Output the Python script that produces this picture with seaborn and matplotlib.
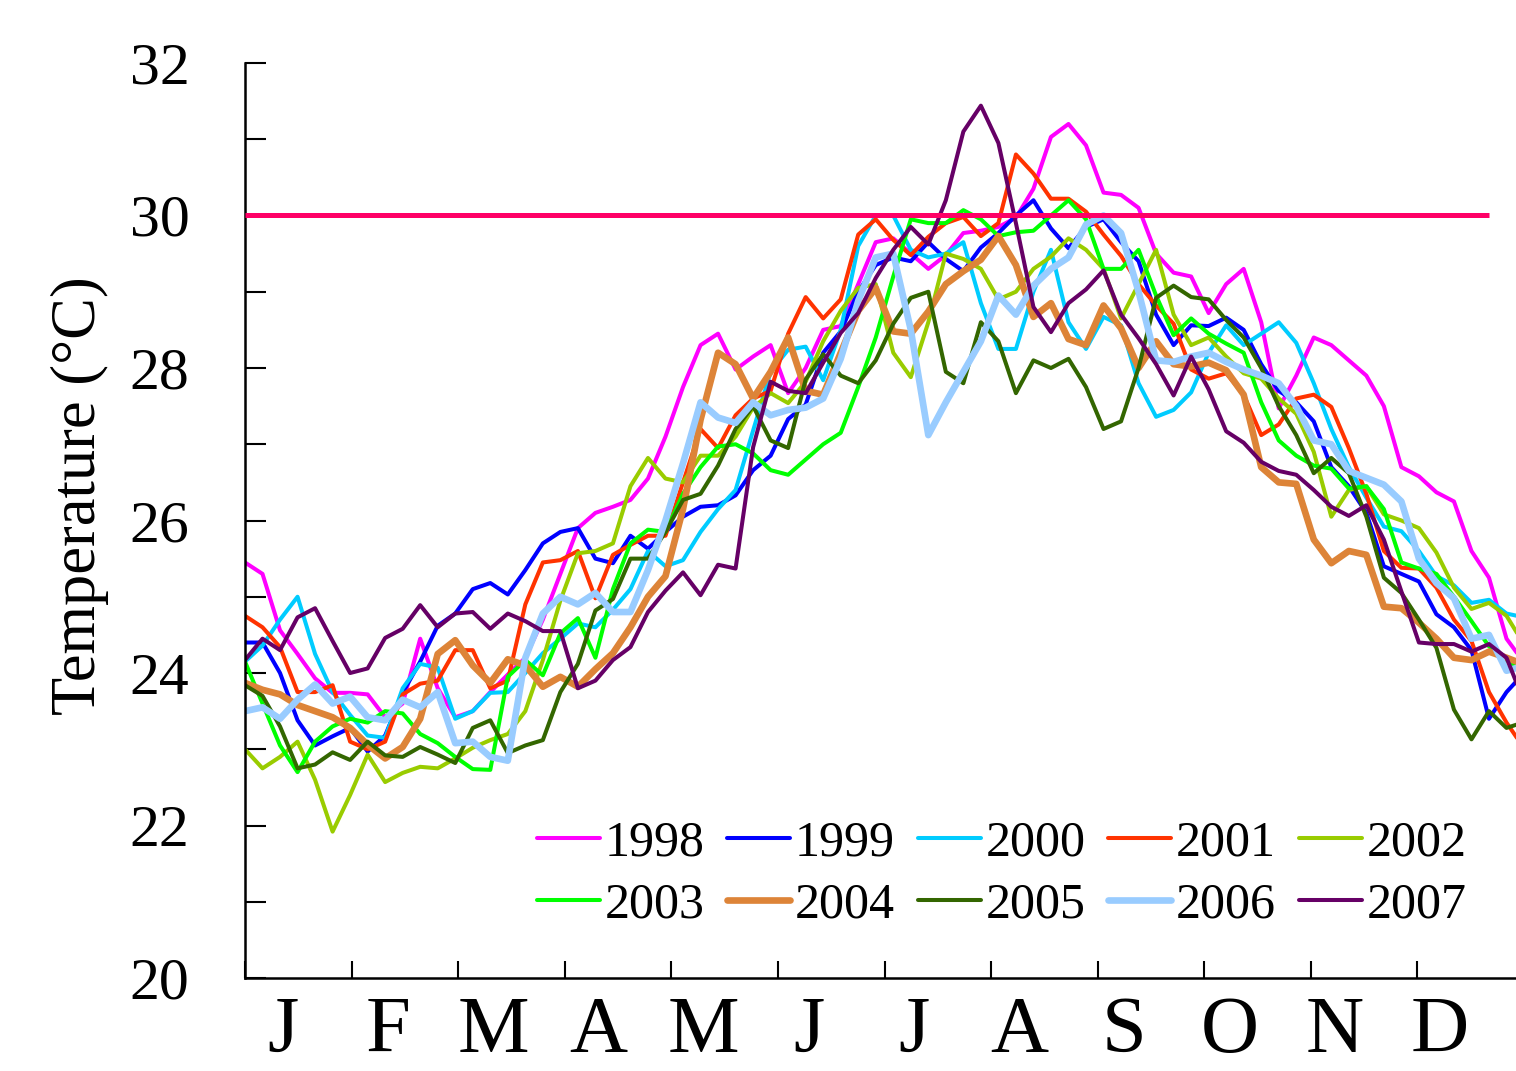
import numpy as np
import pandas as pd
import seaborn as sns
import matplotlib.pyplot as plt

sns.set_style("white")
plt.rcParams["font.family"] = ["Liberation Serif", "DejaVu Serif"]
plt.rcParams["text.color"] = "black"
plt.rcParams["axes.labelcolor"] = "black"
plt.rcParams["xtick.color"] = "black"
plt.rcParams["ytick.color"] = "black"

# day of year for every sample (every 5 days, plus the last day shown)
days = list(range(0, 361, 5)) + [364]

t1998 = [25.45, 25.3, 24.56, 24.25, 23.93, 23.74, 23.74, 23.72, 23.42, 23.6, 24.45, 23.8, 23.42, 23.5, 23.75,
         23.98, 24.2, 24.7, 25.3, 25.9, 26.1, 26.18, 26.27, 26.55, 27.1, 27.75, 28.3, 28.45, 27.98, 28.15,
         28.3, 27.67, 28.0, 28.5, 28.55, 29.1, 29.65, 29.7, 29.5, 29.3, 29.48, 29.77, 29.8, 29.85, 29.97,
         30.35, 31.03, 31.2, 30.92, 30.3, 30.27, 30.1, 29.5, 29.25, 29.2, 28.72, 29.1, 29.3, 28.6, 27.47,
         27.9, 28.4, 28.3, 28.1, 27.9, 27.5, 26.7, 26.58, 26.37, 26.25, 25.6, 25.25, 24.45, 24.2]
t1999 = [24.4, 24.4, 24.0, 23.38, 23.05, 23.17, 23.28, 22.97, 23.18, 23.74, 24.15, 24.62, 24.78, 25.1, 25.18,
         25.03, 25.35, 25.7, 25.85, 25.9, 25.5, 25.44, 25.8, 25.63, 25.85, 26.05, 26.18, 26.2, 26.33, 26.66,
         26.85, 27.33, 27.52, 28.2, 28.48, 29.0, 29.35, 29.45, 29.4, 29.65, 29.43, 29.27, 29.58, 29.77, 30.0,
         30.2, 29.83, 29.57, 29.85, 29.95, 29.65, 29.4, 28.7, 28.3, 28.56, 28.55, 28.66, 28.5, 28.05, 27.7,
         27.55, 27.3, 26.7, 26.45, 26.1, 25.4, 25.3, 25.2, 24.77, 24.6, 24.3, 23.4, 23.75, 23.95]
t2000 = [24.15, 24.36, 24.7, 25.0, 24.25, 23.75, 23.45, 23.18, 23.15, 23.8, 24.12, 24.07, 23.4, 23.5, 23.74,
         23.75, 24.0, 24.26, 24.45, 24.65, 24.6, 24.83, 25.1, 25.6, 25.4, 25.48, 25.85, 26.15, 26.4, 27.18,
         27.95, 28.24, 28.28, 27.84, 28.5, 29.6, 30.0, 30.0, 29.55, 29.45, 29.5, 29.65, 28.85, 28.25, 28.25,
         29.0, 29.55, 28.6, 28.25, 28.67, 28.56, 27.8, 27.36, 27.45, 27.68, 28.2, 28.56, 28.3, 28.45, 28.6,
         28.33, 27.8, 27.2, 26.7, 26.3, 25.92, 25.86, 25.6, 25.27, 25.15, 24.92, 24.96, 24.78, 24.74]
t2001 = [24.75, 24.6, 24.34, 23.75, 23.75, 23.84, 23.1, 23.0, 23.1, 23.72, 23.86, 23.9, 24.3, 24.3, 23.8,
         23.9, 24.9, 25.45, 25.48, 25.6, 24.98, 25.55, 25.68, 25.8, 25.8, 26.5, 27.2, 26.95, 27.38, 27.6,
         27.7, 28.45, 28.93, 28.65, 28.9, 29.75, 29.95, 29.68, 29.48, 29.72, 29.9, 29.98, 29.73, 29.9, 30.8,
         30.55, 30.22, 30.22, 30.05, 29.75, 29.47, 29.1, 28.82, 28.58, 27.98, 27.86, 27.93, 27.65, 27.12, 27.26,
         27.6, 27.65, 27.49, 26.95, 26.35, 25.6, 25.38, 25.37, 25.12, 24.7, 24.42, 23.75, 23.35, 23.08]
t2002 = [23.0, 22.75, 22.9, 23.1, 22.6, 21.92, 22.4, 22.93, 22.57, 22.69, 22.77, 22.75, 22.88, 23.02, 23.12,
         23.2, 23.5, 24.17, 24.95, 25.57, 25.6, 25.7, 26.45, 26.82, 26.55, 26.5, 26.85, 26.85, 27.1, 27.48,
         27.67, 27.54, 27.82, 28.35, 28.75, 29.05, 29.1, 28.2, 27.88, 28.6, 29.5, 29.43, 29.3, 28.9, 29.0,
         29.3, 29.46, 29.7, 29.55, 29.3, 28.65, 29.1, 29.55, 28.7, 28.3, 28.4, 28.15, 27.93, 27.86, 27.6,
         27.4, 26.9, 26.05, 26.4, 26.45, 26.08, 26.0, 25.9, 25.58, 25.12, 24.84, 24.92, 24.75, 24.45]
t2003 = [24.15, 23.6, 23.05, 22.7, 23.1, 23.3, 23.4, 23.35, 23.5, 23.47, 23.2, 23.08, 22.9, 22.74, 22.73,
         23.95, 24.17, 23.97, 24.52, 24.72, 24.2, 25.1, 25.7, 25.88, 25.85, 26.35, 26.7, 26.97, 27.0, 26.88,
         26.66, 26.6, 26.8, 27.0, 27.15, 27.75, 28.4, 29.2, 29.95, 29.9, 29.9, 30.07, 29.95, 29.73, 29.78,
         29.8, 30.0, 30.2, 29.95, 29.3, 29.3, 29.55, 28.95, 28.43, 28.65, 28.45, 28.32, 28.2, 27.55, 27.05,
         26.85, 26.72, 26.68, 26.42, 26.45, 26.15, 25.45, 25.37, 25.3, 25.0, 24.68, 24.35, 24.17, 24.05]
t2004 = [23.87, 23.78, 23.72, 23.58, 23.5, 23.42, 23.28, 23.06, 22.88, 23.03, 23.4, 24.25, 24.43, 24.1, 23.87,
         24.18, 24.1, 23.82, 23.95, 23.82, 24.05, 24.26, 24.6, 25.0, 25.27, 26.15, 27.32, 28.2, 28.05, 27.6,
         27.95, 28.4, 27.7, 27.65, 28.2, 28.75, 29.05, 28.48, 28.45, 28.74, 29.1, 29.27, 29.42, 29.73, 29.35,
         28.67, 28.85, 28.38, 28.3, 28.82, 28.52, 28.0, 28.35, 28.05, 28.02, 28.07, 27.97, 27.65, 26.7, 26.5,
         26.48, 25.75, 25.44, 25.6, 25.55, 24.87, 24.85, 24.66, 24.45, 24.2, 24.17, 24.28, 24.2, 24.13]
t2005 = [23.84, 23.7, 23.3, 22.75, 22.8, 22.96, 22.86, 23.1, 22.92, 22.9, 23.03, 22.93, 22.82, 23.28, 23.38,
         22.95, 23.05, 23.12, 23.75, 24.12, 24.82, 24.97, 25.5, 25.5, 25.85, 26.27, 26.35, 26.72, 27.2, 27.5,
         27.05, 26.95, 27.85, 28.18, 27.9, 27.8, 28.1, 28.58, 28.92, 29.0, 27.95, 27.8, 28.6, 28.35, 27.67,
         28.1, 28.0, 28.12, 27.75, 27.2, 27.3, 28.0, 28.92, 29.08, 28.93, 28.9, 28.63, 28.4, 28.0, 27.5,
         27.12, 26.62, 26.82, 26.62, 26.05, 25.25, 25.05, 24.7, 24.33, 23.52, 23.13, 23.5, 23.28, 23.34]
t2006 = [23.5, 23.55, 23.4, 23.65, 23.85, 23.6, 23.69, 23.42, 23.38, 23.65, 23.55, 23.75, 23.08, 23.1, 22.9,
         22.85, 24.2, 24.78, 25.0, 24.9, 25.05, 24.8, 24.8, 25.35, 26.0, 26.75, 27.55, 27.35, 27.28, 27.55,
         27.38, 27.45, 27.48, 27.6, 28.12, 28.88, 29.45, 29.5, 28.5, 27.12, 27.55, 27.95, 28.35, 28.95, 28.7,
         29.08, 29.3, 29.45, 29.88, 30.0, 29.77, 29.0, 28.1, 28.08, 28.15, 28.2, 28.08, 27.98, 27.9, 27.8,
         27.5, 27.05, 27.0, 26.65, 26.56, 26.47, 26.25, 25.5, 25.18, 24.98, 24.45, 24.5, 24.03, 24.08]
t2007 = [24.17, 24.45, 24.3, 24.73, 24.85, 24.42, 24.0, 24.06, 24.46, 24.58, 24.89, 24.6, 24.78, 24.8, 24.58,
         24.78, 24.68, 24.55, 24.55, 23.8, 23.9, 24.17, 24.34, 24.8, 25.08, 25.32, 25.02, 25.42, 25.37, 26.96,
         27.82, 27.7, 27.67, 28.07, 28.46, 28.72, 29.18, 29.55, 29.85, 29.62, 30.2, 31.1, 31.44, 30.95, 29.9,
         28.8, 28.47, 28.85, 29.03, 29.28, 28.7, 28.39, 28.05, 27.64, 28.15, 27.72, 27.17, 27.02, 26.77, 26.65,
         26.6, 26.4, 26.18, 26.06, 26.2, 25.75, 25.07, 24.4, 24.38, 24.38, 24.28, 24.38, 24.2, 23.74]

years = ["1998", "1999", "2000", "2001", "2002", "2003", "2004", "2005", "2006", "2007"]
series = [t1998, t1999, t2000, t2001, t2002, t2003, t2004, t2005, t2006, t2007]
colors = ["#FF00FF", "#0000FF", "#00CCFF", "#FF3300", "#99CC00",
          "#00FF00", "#DD8438", "#336600", "#99CCFF", "#660066"]
widths = [2.9, 2.9, 2.9, 2.9, 2.9, 2.9, 4.8, 2.9, 4.8, 2.9]
months = ["J", "F", "M", "A", "M", "J", "J", "A", "S", "O", "N", "D"]
threshold = 30

fig = plt.figure(figsize=(15.16, 10.71), dpi=100)
ax = fig.add_axes([0.1616, 0.0868, 0.8437, 0.8544])

for yr, vals, c, lw in zip(years, series, colors, widths):
    df = pd.DataFrame({"day": days, "temp": vals})
    sns.lineplot(data=df, x="day", y="temp", color=c, lw=lw, label=yr, ax=ax)

ax.hlines(threshold, 0, 355, color="#FF0066", lw=3.6, zorder=5)

ax.set_xlim(0, 365)
ax.set_ylim(20, 32)
month_len = 365 / 12
ax.set_xticks([i * month_len for i in range(12)])
ax.set_xticklabels([])
# month letters sit a little left of each month's centre, as in the source
ax.set_xticks([(i + 0.5) * month_len - 4.5 - 0.39 * i for i in range(12)], minor=True)
ax.set_xticklabels(months, minor=True, fontsize=58)
ax.tick_params(axis="x", which="major", direction="in", length=12, width=1.5, bottom=True)
ax.tick_params(axis="x", which="minor", length=0, pad=13, bottom=True)

ax.set_yticks(range(20, 33, 2))
ax.set_yticks(range(21, 32, 2), minor=True)
ax.tick_params(axis="y", which="both", direction="in", length=15, width=1.5, left=True)
ax.tick_params(axis="y", which="major", labelsize=43, pad=40)

ax.set_xlabel("")
ax.set_ylabel("Temperature (°C)", fontsize=45)
ax.yaxis.set_label_coords(-0.106, 0.527)

for side in ["top", "right"]:
    ax.spines[side].set_visible(False)
for side in ["left", "bottom"]:
    ax.spines[side].set_linewidth(1.8)
    ax.spines[side].set_color("black")

handles, labels = ax.get_legend_handles_labels()
order = [0, 5, 1, 6, 2, 7, 3, 8, 4, 9]
ax.legend([handles[i] for i in order], [labels[i] for i in order], ncol=5,
          loc="upper left", bbox_to_anchor=(0.228, 0.173), frameon=False,
          fontsize=36, handlelength=1.26, handletextpad=0.1, columnspacing=0.45,
          labelspacing=0.32, borderpad=0, borderaxespad=0)

fig.savefig("out.png", dpi=100)
